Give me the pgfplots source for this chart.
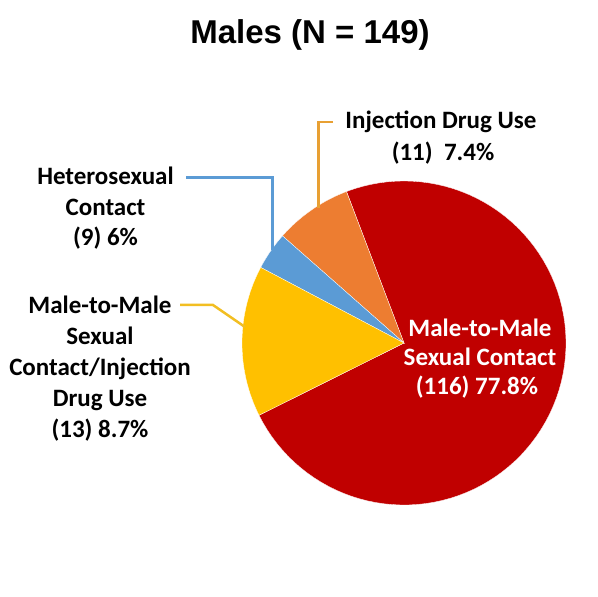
\documentclass[border=0pt]{standalone}
\usepackage{pgfplots}
\pgfplotsset{compat=1.18}
\usepackage{fontspec}
\setmainfont{Carlito}
\newfontfamily\titlefont{Liberation Sans}
\definecolor{cRed}{HTML}{C00000}
\definecolor{cYel}{HTML}{FFC000}
\definecolor{cBlu}{HTML}{5B9BD5}
\definecolor{cOra}{HTML}{ED7D31}
\definecolor{lOra}{HTML}{E8A033}
\definecolor{lYel}{HTML}{F2BE22}
\begin{document}
\begin{tikzpicture}
% drawn shares of the pie (percent): red 73.4, yellow 15.1, blue 3.8, orange 7.7
\begin{axis}[
  scale only axis, width=598pt, height=597pt,
  xmin=0, xmax=598, ymin=0, ymax=597,
  hide axis, clip=false,
  every axis plot/.append style={line width=0.3pt, draw=white, samples=90, variable=\t},
]
\path (axis cs:0,0) rectangle (axis cs:598,597);
% Male-to-Male Sexual Contact (red)
\addplot[fill=cRed, domain=-153.5:110.8] ({404+162*cos(t)}, {254+162*sin(t)}) -- (axis cs:404,254) -- cycle;
% Injection Drug Use (orange)
\addplot[fill=cOra, domain=110.8:138.6] ({404+162*cos(t)}, {254+162*sin(t)}) -- (axis cs:404,254) -- cycle;
% Heterosexual Contact (blue)
\addplot[fill=cBlu, domain=138.6:152.2] ({404+162*cos(t)}, {254+162*sin(t)}) -- (axis cs:404,254) -- cycle;
% Male-to-Male Sexual Contact / Injection Drug Use (yellow)
\addplot[fill=cYel, domain=152.2:206.5] ({404+162*cos(t)}, {254+162*sin(t)}) -- (axis cs:404,254) -- cycle;

% leader lines
\draw[lOra, line width=2.5pt] (axis cs:333,475) -- (axis cs:318.5,475) -- (axis cs:318.5,389);
\draw[cBlu, line width=2.5pt] (axis cs:186,419.5) -- (axis cs:272.5,419.5) -- (axis cs:272.5,347);
\draw[lYel, line width=2.5pt] (axis cs:180,292) -- (axis cs:213,292) -- (axis cs:245,270);

% title
\node[anchor=base, font=\titlefont\bfseries\fontsize{33}{40}\selectfont] at (axis cs:310,553) {Males (N = 149)};

% labels
\begin{scope}[every node/.style={anchor=base, font=\bfseries\fontsize{25}{31}\selectfont, inner sep=0pt}]
\node at (axis cs:105.5,412) {Heterosexual};
\node at (axis cs:105.5,381) {Contact};
\node at (axis cs:105.5,351) {(9) 6\%};

\node at (axis cs:441,468) {Injection Drug Use};
\node at (axis cs:443,436) {(11)\ \ 7.4\%};

\node at (axis cs:100,283) {Male-to-Male};
\node at (axis cs:100,252) {Sexual};
\node at (axis cs:100,221) {Contact/Injection};
\node at (axis cs:100,190) {Drug Use};
\node at (axis cs:100,159) {(13) 8.7\%};

\node[text=white] at (axis cs:480,260) {Male-to-Male};
\node[text=white] at (axis cs:480,231) {Sexual Contact};
\node[text=white] at (axis cs:477,202) {(116) 77.8\%};
\end{scope}
\end{axis}
\end{tikzpicture}
\end{document}
